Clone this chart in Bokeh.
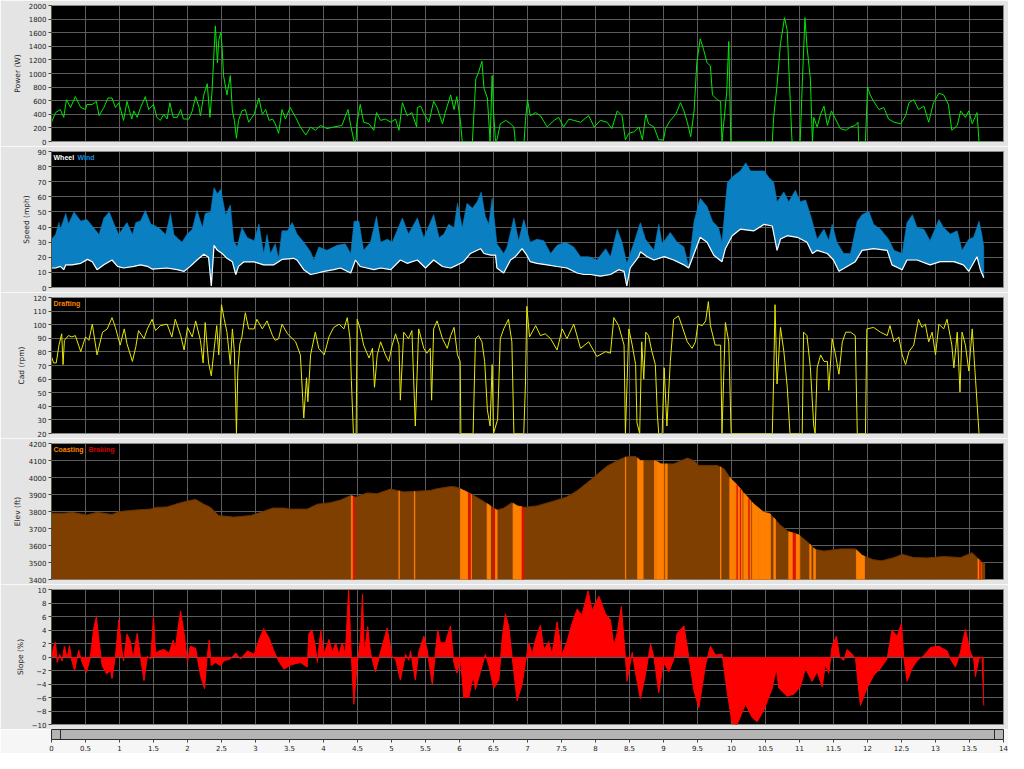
import numpy as np
from bokeh.plotting import figure
from bokeh.layouts import column
from bokeh.models import FixedTicker, Range1d, Span
from bokeh.core.properties import value
from bokeh.embed import file_html
from bokeh.resources import INLINE

# ---------------- data (distance in miles) ----------------
POWER_MI = [0.0, 0.06, 0.13, 0.18, 0.22, 0.28, 0.35, 0.43, 0.5, 0.52, 0.6, 0.66, 0.7, 0.77, 0.83, 0.89, 0.94, 0.99,
            1.06, 1.11, 1.18, 1.21, 1.26, 1.31, 1.38, 1.43, 1.5, 1.55, 1.6, 1.65, 1.7, 1.74, 1.79, 1.85, 1.9, 1.94,
            2.02, 2.07, 2.12, 2.17, 2.19, 2.24, 2.29, 2.33, 2.36, 2.41, 2.44, 2.46, 2.49, 2.51, 2.53, 2.58, 2.63,
            2.66, 2.69, 2.72, 2.75, 2.8, 2.85, 2.9, 2.98, 3.05, 3.1, 3.15, 3.2, 3.25, 3.29, 3.34, 3.39, 3.44, 3.51,
            3.59, 3.66, 3.74, 3.81, 3.88, 3.96, 4.05, 4.15, 4.27, 4.36, 4.4, 4.45, 4.48, 4.49, 4.54, 4.59, 4.67,
            4.74, 4.78, 4.84, 4.91, 4.99, 5.06, 5.11, 5.16, 5.23, 5.3, 5.37, 5.38, 5.43, 5.47, 5.55, 5.62, 5.67,
            5.75, 5.79, 5.87, 5.92, 5.96, 6.01, 6.04, 6.19, 6.24, 6.28, 6.33, 6.36, 6.41, 6.45, 6.48, 6.5, 6.53,
            6.55, 6.6, 6.68, 6.75, 6.8, 6.82, 6.95, 6.97, 7.0, 7.04, 7.12, 7.19, 7.29, 7.39, 7.46, 7.53, 7.61,
            7.68, 7.78, 7.9, 7.98, 8.07, 8.17, 8.24, 8.32, 8.39, 8.44, 8.49, 8.56, 8.64, 8.69, 8.74, 8.78, 8.86,
            8.93, 9.0, 9.03, 9.1, 9.18, 9.25, 9.3, 9.35, 9.4, 9.45, 9.49, 9.54, 9.59, 9.64, 9.69, 9.72, 9.79, 9.84,
            9.86, 9.93, 9.96, 9.99, 10.6, 10.62, 10.67, 10.72, 10.78, 10.82, 10.86, 10.89, 11.01, 11.04, 11.08,
            11.11, 11.16, 11.19, 11.21, 11.26, 11.31, 11.36, 11.41, 11.47, 11.53, 11.6, 11.68, 11.75, 11.82, 11.86,
            11.87, 11.97, 12.0, 12.04, 12.09, 12.17, 12.24, 12.31, 12.39, 12.49, 12.56, 12.61, 12.68, 12.75, 12.83,
            12.9, 12.97, 13.05, 13.12, 13.19, 13.24, 13.32, 13.37, 13.44, 13.49, 13.54, 13.61, 13.64, 13.71]
POWER_W = [284, 425, 470, 355, 615, 500, 660, 500, 470, 545, 545, 590, 380, 500, 640, 640, 500, 570,
           310, 590, 330, 450, 355, 500, 660, 470, 545, 355, 310, 400, 330, 570, 355, 355, 470, 330,
           330, 450, 660, 500, 380, 685, 850, 355, 730, 1700, 1160, 1490, 1610, 1370, 970, 685, 970,
           450, 310, 47, 310, 450, 470, 284, 400, 640, 400, 470, 310, 330, 260, 120, 470, 330, 500,
           355, 213, 95, 213, 165, 236, 190, 213, 236, 470, 236, 0, 24, 260, 545, 284, 260,
           165, 425, 310, 330, 284, 330, 165, 570, 380, 425, 213, 500, 520, 425, 284, 590, 500,
           260, 425, 685, 470, 660, 330, 0, 0, 920, 1017, 1180, 780, 640, 0, 970, 450, 0,
           20, 260, 310, 260, 213, 0, 0, 310, 615, 380, 425, 380, 213, 310, 355, 213, 330,
           310, 284, 380, 213, 310, 284, 190, 450, 380, 24, 120, 140, 213, 24, 400, 260, 213,
           24, 24, 190, 310, 400, 570, 450, 284, 71, 450, 1160, 1510, 1350, 1160, 1110, 685, 615, 590,
           0, 730, 1470, 0, 0, 355, 830, 1440, 1820, 1630, 685, 0, 0, 830, 1820,
           1400, 920, 0, 355, 213, 400, 520, 236, 450, 330, 190, 165, 213, 236, 284,
           0, 0, 800, 685, 590, 470, 500, 330, 284, 260, 380, 570, 615, 470, 520,
           284, 570, 710, 685, 545, 165, 236, 450, 355, 450, 260, 425, 0, 0]

WHEEL_MI = [0, 0.06, 0.13, 0.18, 0.21, 0.3, 0.43, 0.53, 0.6, 0.67, 0.77, 0.89, 0.97, 1.06, 1.21, 1.31, 1.41, 1.48,
            1.7, 1.85, 1.95, 2.04, 2.14, 2.24, 2.31, 2.35, 2.39, 2.44, 2.51, 2.58, 2.66, 2.71, 2.75, 2.83, 2.98,
            3.12, 3.27, 3.39, 3.56, 3.61, 3.71, 3.81, 3.91, 4.01, 4.15, 4.25, 4.4, 4.47, 4.54, 4.64, 4.74, 4.84,
            4.99, 5.13, 5.23, 5.38, 5.5, 5.62, 5.75, 5.87, 5.97, 6.06, 6.16, 6.26, 6.31, 6.36, 6.46, 6.53, 6.55,
            6.65, 6.75, 6.82, 6.92, 6.99, 7.04, 7.14, 7.29, 7.435, 7.58, 7.73, 7.83, 7.93, 8.07, 8.22, 8.34, 8.42,
            8.46, 8.51, 8.635, 8.66, 8.76, 8.86, 9.01, 9.15, 9.3, 9.37, 9.45, 9.54, 9.64, 9.74, 9.86, 9.91, 10.01,
            10.13, 10.33, 10.48, 10.6, 10.67, 10.72, 10.82, 10.97, 11.11, 11.19, 11.26, 11.41, 11.5, 11.58, 11.7,
            11.82, 11.92, 12.09, 12.29, 12.36, 12.51, 12.58, 12.73, 12.92, 13.07, 13.27, 13.41, 13.49, 13.61,
            13.66, 13.71]
WHEEL_MPH = [12.9, 12.9, 14, 11.8, 15, 15, 16, 18.6, 17, 11.8, 15, 18.2, 14, 12.9, 14, 15, 14, 12.2,
             12.9, 11.8, 10.7, 14, 18.2, 22, 20, 1, 27.9, 24.6, 22.5, 19.3, 17, 8.6, 14, 17, 17,
             15, 15, 18.6, 19.3, 18.2, 11.8, 8.6, 9.6, 10.7, 11.8, 12.9, 9.6, 18.2, 13.9, 12.9, 11.8, 12.9,
             11.8, 18.2, 16, 18.2, 12.9, 18.2, 13.9, 12.9, 15, 17.1, 22.5, 24.6, 25.7, 22.5, 21.4, 21.4, 12.9,
             9.6, 18.2, 20.4, 25.7, 21.4, 17.1, 16, 15, 13.9, 12.9, 9.6, 8.6, 8.6, 7.5, 8.6, 11.8, 10.7,
             1, 12.9, 20.4, 23.6, 20.4, 18.2, 20.4, 18.2, 15, 12.9, 22.5, 33.2, 30, 21.4, 17.1, 25.7, 34.3,
             38.6, 37.5, 41.8, 40.7, 24.6, 32.1, 34.3, 33.2, 30, 22.5, 24.6, 22.5, 18.2, 10.7, 13.9,
             17.1, 24.6, 25.7, 24.6, 15, 11.8, 18.2, 18.2, 15, 17.1, 17.1, 15, 10.7, 20.4,
             11.8, 6.4]

WIND_MI = [0, 0.06, 0.11, 0.13, 0.21, 0.25, 0.33, 0.43, 0.52, 0.62, 0.7, 0.77, 0.85, 0.92, 0.99, 1.04, 1.11, 1.19,
           1.24, 1.31, 1.38, 1.46, 1.53, 1.6, 1.68, 1.75, 1.8, 1.87, 1.92, 1.99, 2.07, 2.14, 2.22, 2.26, 2.34,
           2.39, 2.44, 2.49, 2.56, 2.63, 2.68, 2.73, 2.8, 2.88, 2.98, 3.05, 3.12, 3.17, 3.22, 3.29, 3.34, 3.39,
           3.47, 3.54, 3.61, 3.71, 3.81, 3.86, 3.93, 4.05, 4.2, 4.32, 4.4, 4.45, 4.52, 4.59, 4.69, 4.78, 4.84,
           4.94, 5.01, 5.16, 5.25, 5.38, 5.475, 5.62, 5.7, 5.77, 5.84, 5.92, 5.97, 6.04, 6.11, 6.19, 6.26, 6.32,
           6.38, 6.43, 6.48, 6.55, 6.65, 6.7, 6.8, 6.87, 6.945, 7.04, 7.14, 7.24, 7.34, 7.435, 7.56, 7.68, 7.78,
           7.9, 8.02, 8.15, 8.22, 8.32, 8.39, 8.46, 8.56, 8.66, 8.735, 8.86, 8.93, 8.98, 9.1, 9.2, 9.3, 9.37,
           9.45, 9.54, 9.64, 9.72, 9.81, 9.86, 9.94, 10.03, 10.13, 10.21, 10.28, 10.38, 10.48, 10.55, 10.62,
           10.67, 10.77, 10.84, 10.94, 11.01, 11.09, 11.16, 11.26, 11.36, 11.43, 11.48, 11.55, 11.65, 11.75,
           11.85, 11.92, 12.02, 12.09, 12.19, 12.31, 12.39, 12.51, 12.58, 12.66, 12.73, 12.83, 12.92, 13.05,
           13.12, 13.22, 13.32, 13.39, 13.49, 13.56, 13.64, 13.68, 13.71]
WIND_MPH = [32, 35, 43, 38.6, 49, 42, 50, 44, 45, 39.6, 35, 46, 50, 42, 35, 38.6, 43, 35,
            43, 44, 51, 42, 40.7, 38.6, 35, 49, 35, 32, 30, 35, 38.6, 51, 39.6, 49, 50,
            66, 62, 65, 48, 54.6, 31, 26.8, 39.6, 33, 31, 42, 22.5, 35, 22.5, 29, 19.3, 37.5,
            37.5, 43, 35.4, 30, 23.6, 18.2, 26.8, 24.6, 27.9, 28.9, 22.5, 43.9, 43.9, 24.6, 30, 47, 30,
            32, 30, 46, 35.4, 46, 33, 48.2, 33, 35.4, 41.8, 39.6, 55.7, 39.6, 55.7, 52.5, 56.8, 63.2,
            47, 41.8, 59, 28.9, 22.5, 26.8, 46, 31, 45, 30, 32, 31, 22.5, 27.9, 30, 26.8, 20.4,
            20.4, 18.2, 25.7, 20.4, 38.6, 30, 16, 28.9, 42.9, 32, 24.6, 41.8, 28.9, 36.4, 30, 26.8, 13.9,
            43.9, 59, 53.6, 43.9, 39.6, 30, 69.6, 73.9, 77.1, 82.5, 77.1, 77.1, 77.1, 72.8, 69.6,
            56.8, 63.2, 56.8, 64.3, 56.8, 57.9, 48.2, 32, 38.6, 31, 41.8, 30, 22.5, 22.5,
            43.9, 48.2, 50.4, 41.8, 38.6, 32, 24.6, 22.5, 42.9, 48.2, 39.6, 38.6, 31, 45,
            39.6, 35.4, 37.5, 24.6, 32, 33.2, 43.9, 35.4, 26.8]

CAD_MI = [0, 0.03, 0.07, 0.11, 0.15, 0.17, 0.19, 0.25, 0.3, 0.35, 0.43, 0.5, 0.55, 0.6, 0.67, 0.75, 0.82, 0.89,
          0.94, 1.01, 1.07, 1.11, 1.19, 1.24, 1.28, 1.36, 1.41, 1.48, 1.53, 1.6, 1.7, 1.77, 1.82, 1.9, 1.95,
          2.0, 2.07, 2.12, 2.19, 2.23, 2.26, 2.31, 2.35, 2.39, 2.43, 2.46, 2.5, 2.54, 2.58, 2.63, 2.66, 2.69,
          2.72, 2.74, 2.77, 2.8, 2.85, 2.9, 2.98, 3.02, 3.1, 3.17, 3.25, 3.29, 3.34, 3.39, 3.47, 3.59, 3.66,
          3.71, 3.75, 3.77, 3.81, 3.88, 3.93, 4.01, 4.08, 4.15, 4.23, 4.3, 4.35, 4.39, 4.41, 4.44, 4.48, 4.495,
          4.54, 4.59, 4.67, 4.72, 4.75, 4.79, 4.84, 4.91, 4.96, 5.01, 5.06, 5.11, 5.13, 5.18, 5.25, 5.3, 5.35,
          5.4, 5.475, 5.52, 5.57, 5.59, 5.62, 5.67, 5.75, 5.82, 5.87, 5.92, 5.97, 6.01, 6.02, 6.2, 6.235, 6.28,
          6.33, 6.37, 6.41, 6.45, 6.48, 6.5, 6.56, 6.6, 6.65, 6.72, 6.77, 6.8, 6.945, 6.97, 6.99, 7.03, 7.12,
          7.19, 7.26, 7.34, 7.435, 7.51, 7.58, 7.68, 7.78, 7.9, 8.02, 8.15, 8.22, 8.27, 8.34, 8.42, 8.44, 8.49,
          8.54, 8.59, 8.61, 8.65, 8.68, 8.71, 8.74, 8.78, 8.83, 8.88, 8.91, 8.93, 8.98, 9.01, 9.05, 9.1, 9.15,
          9.22, 9.27, 9.35, 9.42, 9.47, 9.505, 9.57, 9.62, 9.66, 9.69, 9.76, 9.84, 9.86, 9.91, 9.96, 9.995,
          10.6, 10.62, 10.64, 10.67, 10.72, 10.77, 10.82, 10.86, 11.04, 11.06, 11.11, 11.16, 11.21, 11.23,
          11.26, 11.31, 11.36, 11.41, 11.43, 11.48, 11.53, 11.58, 11.63, 11.68, 11.75, 11.82, 11.85, 11.97,
          11.99, 12.09, 12.19, 12.29, 12.33, 12.39, 12.46, 12.51, 12.56, 12.61, 12.68, 12.75, 12.8, 12.85,
          12.9, 12.95, 13.0, 13.05, 13.12, 13.17, 13.24, 13.27, 13.32, 13.36, 13.39, 13.44, 13.49, 13.54,
          13.59, 13.64]
CAD_RPM = [76.6, 71.9, 71.9, 85, 93.3, 70.7, 88.5, 92, 91, 92, 80.2, 91, 88.5, 100.4, 77.8, 94.5, 96.9, 105.2,
           98, 85, 96.9, 86, 73, 83.8, 95.7, 89.7, 96.9, 104, 95.7, 99.3, 100.4, 91, 104, 92, 81.4,
           98, 91, 102.8, 88.5, 71.9, 101.6, 71.9, 62.4, 81.4, 99.3, 77.8, 114.7, 104, 94.5, 70.7, 96.9, 80.2,
           20, 66, 86, 91, 108.8, 96.9, 96.9, 104, 96.9, 102.8, 92, 88.5, 89.7, 100.4, 93.3, 87.4, 77.8,
           31.4, 61, 43.3, 77.8, 94.5, 82.6, 77.8, 91, 98, 100.4, 96.9, 105.2, 89.7, 58.8, 20, 20, 104,
           96.9, 85, 75.5, 82.6, 54, 77.8, 87.4, 77.8, 73, 85, 93.3, 85, 44.5, 94.5, 89.7, 95.7, 25.5,
           96.9, 82.6, 79, 82.6, 44.5, 96.9, 102.8, 89.7, 82.6, 92, 98, 77.8, 73, 20, 20, 89.7, 92,
           87.4, 73, 37.4, 25.5, 70.7, 20, 30.2, 89.7, 96.9, 104, 87.4, 20, 20, 56.4, 113.5, 91, 99.3,
           92, 93.3, 89.7, 81.4, 96.9, 89.7, 100.4, 82.6, 87.4, 76.6, 80.2, 79, 105.2, 99.3, 85, 20, 96.9,
           85, 70.7, 27.9, 20, 87.4, 60, 94.5, 92, 80.2, 70.7, 33.8, 20, 20, 68.3, 25.5, 73, 104,
           106.4, 99.3, 87.4, 82.6, 87.4, 100.4, 99.3, 102.8, 117, 99.3, 85, 85, 20, 101.6, 87.4, 20,
           20, 61.2, 114.7, 56.4, 98, 80.2, 54, 20, 20, 94.5, 92, 68.3, 25.5, 20,
           68.3, 77.8, 73, 73, 51.7, 89.7, 77.8, 63.6, 87.4, 94.5, 94.5, 92, 20, 20,
           96.9, 98, 94.5, 92, 99.3, 87.4, 91, 77.8, 70.7, 80.2, 85, 104, 98, 100.4,
           87.4, 94.5, 77.8, 100.4, 96.9, 104, 85, 68.3, 94.5, 50.5, 94.5, 85, 65.9, 96.9,
           58.8, 20]

ELEV_MI = [0, 0.18, 0.31, 0.43, 0.52, 0.67, 0.77, 0.89, 0.99, 1.21, 1.46, 1.53, 1.7, 1.9, 2.0, 2.12, 2.24, 2.34,
           2.46, 2.68, 2.93, 3.12, 3.25, 3.42, 3.515, 3.76, 3.91, 4.1, 4.25, 4.4, 4.47, 4.64, 4.79, 4.985, 5.18,
           5.38, 5.57, 5.67, 5.87, 5.965, 6.04, 6.16, 6.31, 6.455, 6.55, 6.65, 6.77, 6.85, 6.945, 7.14, 7.39,
           7.58, 7.73, 7.925, 8.17, 8.37, 8.46, 8.59, 8.66, 8.88, 8.96, 9.15, 9.35, 9.45, 9.52, 9.79, 9.89,
           9.985, 10.08, 10.18, 10.33, 10.475, 10.57, 10.72, 10.84, 10.99, 11.11, 11.23, 11.36, 11.6, 11.82,
           11.92, 12.09, 12.21, 12.39, 12.51, 12.68, 12.88, 13.12, 13.37, 13.54, 13.61, 13.685, 13.73]
ELEV_FT = [3790, 3790, 3795, 3786, 3780, 3795, 3790, 3782, 3799, 3808, 3814, 3824, 3827, 3852, 3862, 3871, 3843,
           3824, 3776, 3767, 3776, 3801, 3820, 3820, 3814, 3814, 3843, 3852, 3867, 3894, 3884, 3909, 3905,
           3932, 3915, 3919, 3924, 3934, 3947, 3943, 3928, 3905, 3871, 3833, 3808, 3820, 3852, 3833, 3824,
           3833, 3862, 3886, 3922, 3985, 4067, 4109, 4122, 4124, 4099, 4099, 4080, 4080, 4114, 4099, 4071,
           4071, 4052, 3995, 3957, 3909, 3843, 3795, 3786, 3719, 3681, 3662, 3624, 3577, 3567, 3580, 3580,
           3542, 3516, 3510, 3529, 3548, 3529, 3527, 3535, 3529, 3558, 3529, 3497, 3495]

COAST_START = [4.41, 5.11, 5.337, 6.014, 6.16, 6.406, 6.53, 6.788, 8.44, 8.62, 8.868, 8.897, 9.03, 9.838, 9.975,
               10.055, 10.18, 10.303, 10.395, 10.505, 10.622, 10.843, 10.94, 11.151, 11.21, 11.837, 13.626]
COAST_END = [4.436, 5.115, 5.343, 6.122, 6.176, 6.455, 6.553, 6.92, 8.445, 8.70, 8.882, 9.005, 9.054, 9.845, 10.05,
             10.157, 10.28, 10.39, 10.5, 10.573, 10.647, 10.906, 11.004, 11.17, 11.234, 11.955, 13.67]
BRAKE_START = [4.436, 6.137, 6.494, 6.92, 10.08, 10.13, 10.255, 10.906, 13.65]
BRAKE_END = [4.456, 6.16, 6.514, 6.945, 10.085, 10.135, 10.26, 10.94, 13.66]

SLOPE_MI = [0, 0.034, 0.06, 0.083, 0.12, 0.157, 0.19, 0.23, 0.265, 0.3, 0.34, 0.4, 0.45, 0.515, 0.57, 0.62, 0.66,
            0.7, 0.745, 0.81, 0.87, 0.89, 0.94, 0.99, 1.03, 1.06, 1.11, 1.16, 1.2, 1.26, 1.31, 1.36, 1.41, 1.46,
            1.5, 1.53, 1.58, 1.65, 1.73, 1.79, 1.82, 1.87, 1.9, 1.95, 2.0, 2.04, 2.12, 2.19, 2.25, 2.29, 2.32,
            2.35, 2.41, 2.49, 2.53, 2.63, 2.71, 2.78, 2.88, 2.98, 3.05, 3.12, 3.2, 3.27, 3.34, 3.42, 3.515,
            3.66, 3.76, 3.785, 3.83, 3.88, 3.91, 3.96, 4.005, 4.08, 4.13, 4.18, 4.225, 4.275, 4.32, 4.37, 4.41,
            4.446, 4.495, 4.544, 4.573, 4.6, 4.65, 4.69, 4.764, 4.838, 4.936, 5.01, 5.06, 5.13, 5.206, 5.255,
            5.28, 5.35, 5.4, 5.475, 5.524, 5.6, 5.646, 5.68, 5.72, 5.79, 5.867, 5.916, 5.965, 6.014, 6.063,
            6.137, 6.2, 6.235, 6.308, 6.38, 6.43, 6.504, 6.58, 6.626, 6.675, 6.725, 6.774, 6.847, 6.92, 6.97,
            7.02, 7.07, 7.117, 7.19, 7.24, 7.313, 7.36, 7.435, 7.51, 7.582, 7.656, 7.73, 7.8, 7.89, 7.95, 8.05,
            8.146, 8.22, 8.27, 8.317, 8.38, 8.44, 8.464, 8.54, 8.586, 8.66, 8.735, 8.81, 8.858, 8.93, 9.0,
            9.08, 9.152, 9.2, 9.3, 9.373, 9.45, 9.52, 9.618, 9.69, 9.765, 9.862, 9.936, 10.01, 10.083, 10.206,
            10.3, 10.377, 10.475, 10.6, 10.66, 10.695, 10.818, 10.916, 11.014, 11.087, 11.185, 11.26, 11.333,
            11.38, 11.43, 11.48, 11.543, 11.59, 11.65, 11.7, 11.774, 11.823, 11.896, 11.994, 12.092, 12.19,
            12.288, 12.36, 12.435, 12.5, 12.533, 12.582, 12.656, 12.73, 12.827, 12.925, 13.048, 13.17, 13.22,
            13.293, 13.366, 13.44, 13.513, 13.562, 13.587, 13.636, 13.685, 13.71]
SLOPE_PCT = [0, 1.6, 2.2, -0.8, 0.4, -0.6, 1.6, -0.1, 1.7, -0.6, -2, 1.0, -0.8, -2.3, -0.1, 4.2, 6.0,
             2.3, -1.3, -2.5, -2, -3.2, 0.1, 5.5, 1.3, -0.6, 3.4, 2.3, -0.1, 3.5, -0.1, -3.5, 0.1, -0.3,
             6.0, 0.6, 0.9, 1.1, 0.6, 2.5, 1.1, 5.0, 6.8, 3.5, -0.8, 1.6, 1.3, -2.7, -4.7, 0.1, 2.5,
             -1.3, -0.8, -1.3, -0.6, -0.3, 0.6, -0.3, 0.9, 0.4, 2.5, 4.2, 2.8, 0.9, -0.6, -1.8, -1.2,
             -0.8, -1.5, 3.5, 4.0, 1.6, -0.8, 4.0, 0.4, 2.6, 0.7, 2.1, 0.4, 2.1, 0.4, 10, 0,
             -7, -1.2, 2.6, 9.3, 0.7, 4.5, 0.7, -2.2, 0.7, 4.3, 0, -0.3, -3.4, 0.4, -0.5,
             0.9, -3.4, 0.7, 3.1, 1.1, -4.1, 0.7, 4.0, 2.1, 2.1, 4.6, -0.8, -2.4, -0.3, -6.0,
             -6.0, -2.9, -4.8, -2.2, 0.4, -1.2, -4.6, -3.4, 2.6, 6.4, 4.5, 0, -6.5, -4.1, -0.8,
             2.1, 0.4, 2.6, 4.7, 1.1, 2.3, 0.4, 5.2, 0.4, 2.3, 5.0, 7.1, 6.2, 9.8, 6.9, 9.0,
             6.4, 5.5, 1.6, 3.5, 7.5, 0, -3.6, 0.7, -2.2, -6.2, -2.6, 1.9, 0, -5.3, -0.8,
             -2.2, -0.3, 3.5, 4.6, 0, -5.1, -7.5, -1.2, 1.6, 0.3, 0.4, -5.1, -9.9, -10, -7,
             -8.9, -9.6, -7.9, -4.6, -1.7, -4.6, -5.8, -5.5, -4.4, -1.7, -3.6, -2.2, -4.4,
             -1.2, -2.4, 1.6, 3.1, 0, -0.5, 1.1, 0.4, -0.2, -7.2, -4.6, -2.7, -1.7,
             -0.3, 4.0, 3.1, 5.0, 0, -3.6, -1.7, -0.5, 0.2, 1.4, 1.6, 0.9, -0.3,
             -1.5, 0.7, 4.1, 0.7, -0.3, -2.9, -0.3, 0, -7.2]

X_TICKS = [0, 0.5, 1, 1.5, 2, 2.5, 3, 3.5, 4, 4.5, 5, 5.5, 6, 6.5, 7, 7.5, 8, 8.5, 9, 9.5, 10, 10.5, 11, 11.5,
           12, 12.5, 13, 13.5, 14]
X_TICK_LABELS = ["0", "0.5", "1", "1.5", "2", "2.5", "3", "3.5", "4", "4.5", "5", "5.5", "6", "6.5", "7", "7.5",
                 "8", "8.5", "9", "9.5", "10", "10.5", "11", "11.5", "12", "12.5", "13", "13.5", "14"]
POWER_TICKS = [0, 200, 400, 600, 800, 1000, 1200, 1400, 1600, 1800, 2000]
SPEED_TICKS = [0, 10, 20, 30, 40, 50, 60, 70, 80, 90]
CAD_TICKS = [20, 30, 40, 50, 60, 70, 80, 90, 100, 110, 120]
ELEV_TICKS = [3400, 3500, 3600, 3700, 3800, 3900, 4000, 4100, 4200]
SLOPE_TICKS = [-10, -8, -6, -4, -2, 0, 2, 4, 6, 8, 10]

# ---------------- layout / style ----------------
FONT = "DejaVu Sans"
LEG_FONT = "Liberation Sans"
FIG_W = 1008
LEFT, RIGHT = 51, 5
BTOP, BBOT = 5, 5
PANEL_FRAMES = [136, 136, 136, 136, 135]
AXIS_FIG_H = 24
X_MIN, X_MAX = 0, 14
PX_PER_MI = (FIG_W - LEFT - RIGHT) / (X_MAX - X_MIN)

x_range = Range1d(X_MIN, X_MAX)


def make_panel(yr, yticks, ylabel, frame_h):
    p = figure(width=FIG_W, height=frame_h + BTOP + BBOT, x_range=x_range, y_range=Range1d(yr[0], yr[-1]),
               x_axis_location=None, output_backend="svg", toolbar_location=None, title=None,
               min_border_left=LEFT, min_border_right=RIGHT, min_border_top=BTOP, min_border_bottom=BBOT)
    p.background_fill_color = "black"
    p.border_fill_color = "#e4e4e4"
    p.outline_line_color = "#8a8a8a"
    p.xgrid.ticker = FixedTicker(ticks=X_TICKS)
    p.yaxis.ticker = FixedTicker(ticks=yticks)
    p.ygrid.ticker = FixedTicker(ticks=yticks)
    for g in (p.xgrid, p.ygrid):
        g.grid_line_color = "#5c5c5c"
        g.grid_line_width = 1
    ax = p.yaxis[0]
    ax.axis_label = ylabel
    ax.axis_label_text_font = FONT
    ax.axis_label_text_font_size = "7.5px"
    ax.axis_label_text_font_style = "normal"
    ax.axis_label_text_color = "#222222"
    ax.axis_label_standoff = 4
    ax.major_label_text_font = FONT
    ax.major_label_text_font_size = "7px"
    ax.major_label_text_color = "#222222"
    ax.major_label_standoff = 2
    ax.major_tick_out = 3
    ax.major_tick_in = 0
    ax.minor_tick_out = 0
    ax.minor_tick_in = 0
    ax.major_tick_line_color = "#444444"
    ax.axis_line_color = "#555533"
    return p


def legend_text(p, x, y, txt, color, dx):
    p.text(x=[x], y=[y], text=[txt], text_color=color, text_font=value(LEG_FONT), text_font_style="bold",
           text_font_size="7px", text_baseline="top", text_align="left", x_offset=dx, y_offset=2)


# Power
p_pow = make_panel((POWER_TICKS[0], POWER_TICKS[-1]), POWER_TICKS, "Power (W)", PANEL_FRAMES[0])
p_pow.line(POWER_MI, POWER_W, line_color="#00e800", line_width=1)

# Speed
p_spd = make_panel((SPEED_TICKS[0], SPEED_TICKS[-1]), SPEED_TICKS, "Speed (mph)", PANEL_FRAMES[1])
p_spd.patch(WIND_MI + WHEEL_MI[::-1], WIND_MPH + WHEEL_MPH[::-1], fill_color="#0a7fc2", line_color="#0a7fc2",
            line_width=0.6)
p_spd.line(WHEEL_MI, WHEEL_MPH, line_color="white", line_width=1.2)
legend_text(p_spd, X_MIN, SPEED_TICKS[-1], "Wheel", "white", 2)
legend_text(p_spd, X_MIN, SPEED_TICKS[-1], "Wind", "#1a8fe0", 26)

# Cadence
p_cad = make_panel((CAD_TICKS[0], CAD_TICKS[-1]), CAD_TICKS, "Cad (rpm)", PANEL_FRAMES[2])
p_cad.line(CAD_MI, CAD_RPM, line_color="#e8e800", line_width=1)
legend_text(p_cad, X_MIN, CAD_TICKS[-1], "Drafting", "#ff8000", 2)

# Elevation
p_ele = make_panel((ELEV_TICKS[0], ELEV_TICKS[-1]), ELEV_TICKS, "Elev (ft)", PANEL_FRAMES[3])
p_ele.varea(x=ELEV_MI, y1=ELEV_TICKS[0], y2=ELEV_FT, fill_color="#7f3f00")
p_ele.line(ELEV_MI, ELEV_FT, line_color="#6a3400", line_width=1)


def band_polys(starts, ends):
    xs, ys = [], []
    for s, e in zip(starts, ends):
        bx = [s] + [x for x in ELEV_MI if s < x < e] + [e]
        top = [float(v) for v in np.interp(bx, ELEV_MI, ELEV_FT)]
        xs.append(bx + [e, s])
        ys.append(top + [ELEV_TICKS[0], ELEV_TICKS[0]])
    return xs, ys


cx, cy = band_polys(COAST_START, COAST_END)
p_ele.patches(cx, cy, fill_color="#ff8000", line_color="#ff8000", line_width=0.8)
bx_, by_ = band_polys(BRAKE_START, BRAKE_END)
p_ele.patches(bx_, by_, fill_color="#e01000", line_color="#e01000", line_width=0.8)
legend_text(p_ele, X_MIN, ELEV_TICKS[-1], "Coasting", "#ff8000", 2)
legend_text(p_ele, X_MIN, ELEV_TICKS[-1], "Braking", "#d00000", 37)

# Slope
p_slp = make_panel((SLOPE_TICKS[0], SLOPE_TICKS[-1]), SLOPE_TICKS, "Slope (%)", PANEL_FRAMES[4])
p_slp.varea(x=SLOPE_MI, y1=0, y2=SLOPE_PCT, fill_color="#ff0000")
p_slp.line(SLOPE_MI, SLOPE_PCT, line_color="#ff0000", line_width=1)

# Bottom distance axis with scrollbar strip (frame aligned with the panels)
p_ax = figure(width=FIG_W, height=AXIS_FIG_H, x_range=x_range, y_range=Range1d(0, 1),
              y_axis_location=None, output_backend="svg", toolbar_location=None, title=None,
              min_border_left=LEFT, min_border_right=RIGHT, min_border_top=0, min_border_bottom=0)
p_ax.xgrid.visible = False
p_ax.ygrid.visible = False
p_ax.background_fill_color = "#b4b4b4"
p_ax.border_fill_color = "#f6f6f6"
p_ax.outline_line_color = "#2a2a2a"
xa = p_ax.xaxis[0]
xa.ticker = FixedTicker(ticks=X_TICKS)
xa.major_label_overrides = {t: l for t, l in zip(X_TICKS, X_TICK_LABELS)}
xa.axis_line_color = None
xa.major_tick_out = 3
xa.major_tick_in = 0
xa.minor_tick_out = 0
xa.minor_tick_in = 0
xa.major_tick_line_color = "#444444"
xa.major_label_standoff = 2
xa.major_label_text_font = FONT
xa.major_label_text_font_size = "7px"
xa.major_label_text_color = "#222222"
p_ax.add_layout(Span(location=X_MIN + 9 / PX_PER_MI, dimension="height", line_color="#2a2a2a", line_width=1))
p_ax.add_layout(Span(location=X_MAX - 9 / PX_PER_MI, dimension="height", line_color="#2a2a2a", line_width=1))

layout = column(p_pow, p_spd, p_cad, p_ele, p_slp, p_ax, spacing=0)
open("out.html", "w").write(file_html(layout, INLINE))
